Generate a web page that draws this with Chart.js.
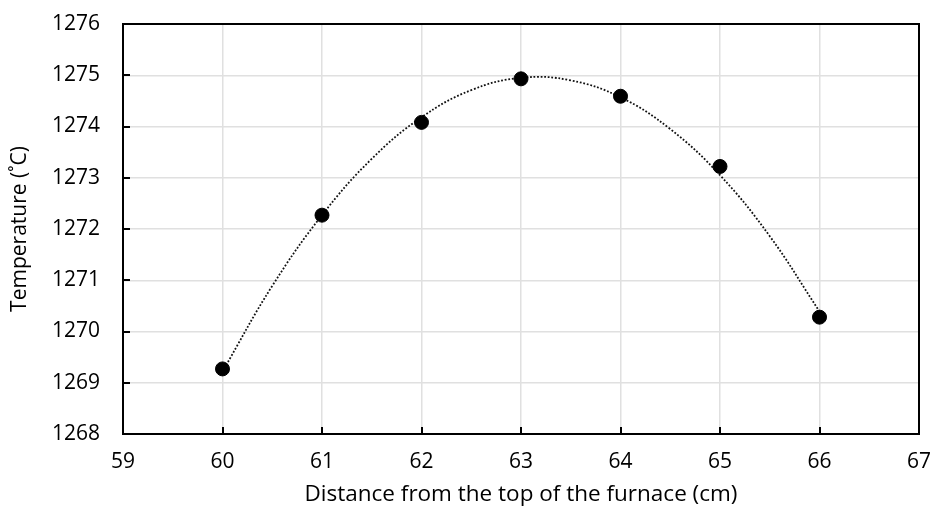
<!DOCTYPE html>
<html>
<head>
<meta charset="utf-8">
<script src="https://cdn.jsdelivr.net/npm/chart.js@4/dist/chart.umd.min.js"></script>
<style>
  html, body { margin: 0; padding: 0; background: #ffffff; }
  #wrap { width: 936px; height: 512px; }
</style>
</head>
<body>
<div id="wrap"><canvas id="c" width="936" height="512"></canvas></div>
<script>
// Measured data points (distance in cm, temperature in °C)
const distances = [60, 61, 62, 63, 64, 65, 66];
const temperatures = [1269.27, 1272.27, 1274.08, 1274.93, 1274.59, 1273.22, 1270.28];

// Dotted trend curve at half-centimetre steps
const trendX = [60, 60.5, 61, 61.5, 62, 62.5, 63, 63.5, 64, 64.5, 65, 65.5, 66];
const trendY = [1269.22, 1270.89, 1272.27, 1273.37, 1274.18, 1274.71, 1274.95, 1274.90, 1274.57, 1273.95, 1273.05, 1271.86, 1270.39];

// Axis ranges / ticks
const xTicks = [59, 60, 61, 62, 63, 64, 65, 66, 67];
const yTicks = [1268, 1269, 1270, 1271, 1272, 1273, 1274, 1275, 1276];

const xTitle = 'Distance from the top of the furnace (cm)';
const yTitle = 'Temperature (˚C)';

const FONT = "'Open Sans', 'Liberation Sans', sans-serif";
const FSIZE = 21;

const pointData = distances.map((d, i) => ({ x: d, y: temperatures[i] }));
const trendData = trendX.map((d, i) => ({ x: d, y: trendY[i] }));

const frame = {
  id: 'frame',
  afterDraw(chart) {
    const { ctx, chartArea: a, scales } = chart;
    ctx.save();
    ctx.strokeStyle = '#000000';
    ctx.lineWidth = 2;
    ctx.lineCap = 'butt';
    ctx.beginPath();
    yTicks.forEach(v => {
      const y = Math.round(scales.y.getPixelForValue(v));
      ctx.moveTo(a.left, y);
      ctx.lineTo(a.left + 7, y);
    });
    xTicks.forEach(v => {
      const x = Math.round(scales.x.getPixelForValue(v));
      ctx.moveTo(x, a.bottom);
      ctx.lineTo(x, a.bottom - 7);
    });
    ctx.stroke();
    ctx.strokeRect(a.left, a.top, a.right - a.left, a.bottom - a.top);
    ctx.restore();
  }
};

new Chart(document.getElementById('c'), {
  type: 'scatter',
  data: {
    datasets: [
      {
        label: 'Measured',
        data: pointData,
        backgroundColor: '#000000',
        borderColor: '#000000',
        pointRadius: 7,
        pointHoverRadius: 7,
        showLine: false
      },
      {
        label: 'Trend',
        data: trendData,
        showLine: true,
        borderColor: '#111111',
        borderWidth: 1.8,
        borderDash: [1.8, 1.8],
        pointRadius: 0,
        pointHoverRadius: 0,
        tension: 0.4,
        fill: false
      }
    ]
  },
  plugins: [frame],
  options: {
    responsive: false,
    animation: false,
    events: [],
    layout: { padding: { left: 0, right: 17, top: 24, bottom: 0 } },
    plugins: {
      legend: { display: false },
      tooltip: { enabled: false },
      title: { display: false }
    },
    scales: {
      x: {
        type: 'linear',
        min: 59,
        max: 67,
        afterFit(scale) {
          scale.height = 78;
          scale.paddingLeft = 0; scale.paddingRight = 0;
          scale.paddingTop = 0; scale.paddingBottom = 0;
        },
        afterBuildTicks(scale) { scale.ticks = xTicks.map(v => ({ value: v })); },
        border: { display: false },
        grid: { color: '#e0e0e0', lineWidth: 1.5, drawTicks: false },
        ticks: {
          padding: 15,
          color: '#000000',
          font: { family: FONT, size: FSIZE },
          maxRotation: 0,
          autoSkip: false,
          callback: v => String(v)
        },
        title: {
          display: true,
          text: xTitle,
          color: '#000000',
          font: { family: FONT, size: 22.5 },
          padding: { top: 0, bottom: 4 }
        }
      },
      y: {
        type: 'linear',
        min: 1268,
        max: 1276,
        afterFit(scale) {
          scale.width = 123;
          scale.paddingLeft = 0; scale.paddingRight = 0;
          scale.paddingTop = 0; scale.paddingBottom = 0;
        },
        afterBuildTicks(scale) { scale.ticks = yTicks.map(v => ({ value: v })); },
        border: { display: false },
        grid: { color: '#e0e0e0', lineWidth: 1.5, drawTicks: false },
        ticks: {
          padding: 23,
          color: '#000000',
          font: { family: FONT, size: FSIZE },
          autoSkip: false,
          callback: v => String(v)
        },
        title: {
          display: true,
          text: yTitle,
          color: '#000000',
          font: { family: FONT, size: FSIZE },
          padding: { top: 7, bottom: 0 }
        }
      }
    }
  }
});
</script>
</body>
</html>
